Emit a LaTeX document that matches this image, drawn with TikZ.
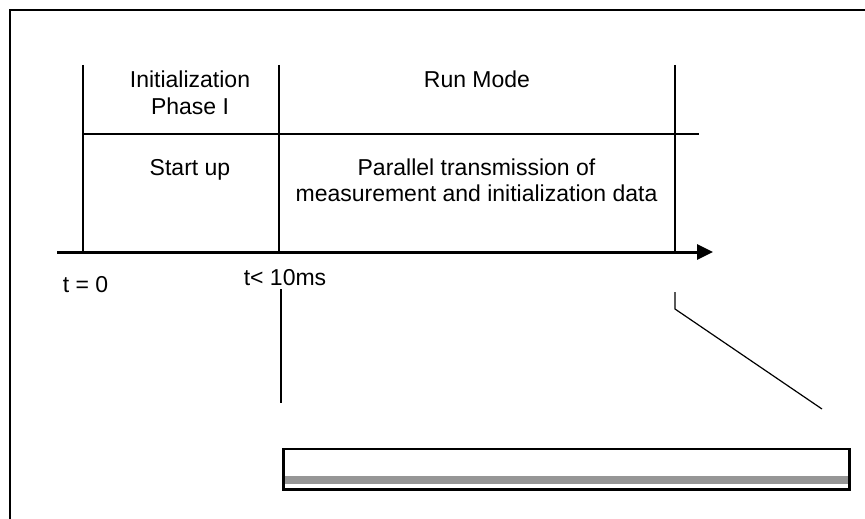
\documentclass[tikz,border=0pt]{standalone}
\usepackage{fontspec}
\setmainfont{Liberation Sans}
\usetikzlibrary{arrows.meta}
\begin{document}
\begin{tikzpicture}[x=1pt,y=-1pt,
  lbl/.style={inner sep=0pt,align=center,anchor=base,font=\fontsize{23}{26.7}\selectfont},
  thin line/.style={line width=1.2pt},
  frame line/.style={line width=2pt},
  axis line/.style={line width=3pt,-{Triangle[length=16pt,width=15pt]}},
  bar border/.style={line width=2.5pt}]
\useasboundingbox (0,0) rectangle (865,519);
\clip (0,0) rectangle (865,519);
\fill[white] (0,0) rectangle (865,519);
% outer frame
\draw[frame line] (10,530) -- (10,10) -- (880,10);
% coordinates
\coordinate (v1t) at (83,65);  \coordinate (v1b) at (83,252);
\coordinate (v2t) at (279,65); \coordinate (v2b) at (279,252);
\coordinate (v3t) at (675,65); \coordinate (v3b) at (675,252);
\coordinate (hl) at (83,134);  \coordinate (hr) at (699,134);
\coordinate (ax0) at (57,252); \coordinate (ax1) at (713,252);
\coordinate (m1t) at (281,289); \coordinate (m1b) at (281,403);
\coordinate (m2t) at (675,292); \coordinate (m2k) at (675,309); \coordinate (m2e) at (822,409);
% grid lines
\draw[thin line] (v1t) -- (v1b);
\draw[thin line] (v2t) -- (v2b);
\draw[thin line] (v3t) -- (v3b);
\draw[thin line] (hl) -- (hr);
% time axis
\draw[axis line] (ax0) -- (ax1);
% labels (anchor base = baseline of last line)
\node[lbl] (init) at (190,114.3) {Initialization\\Phase I};
\node[lbl] (run) at (477,88) {Run Mode};
\node[lbl] (start) at (190,175) {Start up};
\node[lbl] (par) at (476.5,201.7) {Parallel transmission of\\measurement and initialization data};
\node[lbl] (t0) at (85.5,292) {t = 0};
\node[lbl] (t10) at (285,285) {t< 10ms};
% markers
\draw[thin line] (m1t) -- (m1b);
\draw[thin line] (m2t) -- (m2k) -- (m2e);
% bottom bar
\path node[minimum width=565.5pt,minimum height=40pt,inner sep=0pt,anchor=north west] (bar) at (283.5,449) {};
\fill[gray!82] ([yshift=-27pt]bar.north west) rectangle ([yshift=5pt]bar.south east);
\draw[bar border] (bar.north west) rectangle (bar.south east);
\end{tikzpicture}
\end{document}
